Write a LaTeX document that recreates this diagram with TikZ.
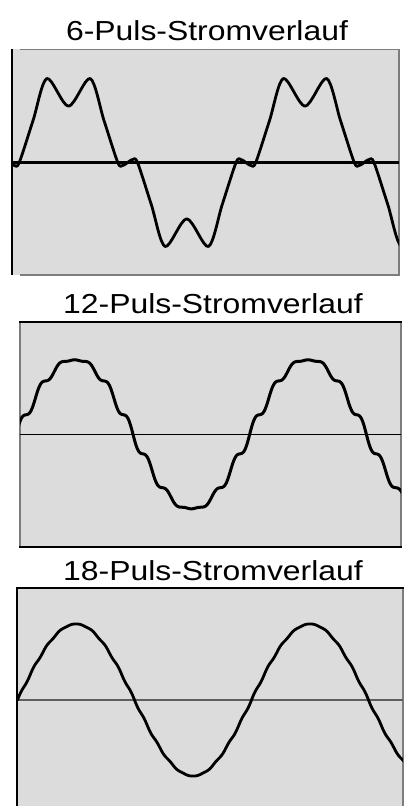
\documentclass[tikz,border=0pt]{standalone}
\usepackage{fontspec}
\setmainfont{Liberation Sans}
\definecolor{kasten}{RGB}{220,220,220}
\definecolor{rahmen}{RGB}{125,125,125}
\definecolor{achsgrau}{RGB}{95,95,95}
\tikzset{
    welle/.style = {line width=2.8pt, black, line join=round, line cap=round},
    achse/.style = {line width=2.3pt, black},
    titel/.style = {font=\fontsize{27.5}{32}\selectfont, xscale=1.16, anchor=base, inner sep=0pt},
    rahmenhell/.style = {line width=1.5pt, draw=rahmen},
    rahmendunkel/.style = {line width=2.6pt, draw=black},
    halbwelle/.pic = {
        \draw[welle] plot[smooth, tension=0.5] coordinates {(0,0) (7.5,-0.035) (15,0) (36,0.5) (57,1) (90,0.67) (123,1) (144,0.5) (165,0) (172.5,-0.035) (180,0)};
    }
}
\begin{document}
\begin{tikzpicture}[x=1pt, y=-1pt]
    \useasboundingbox (0,0) rectangle (405,806);

    % 6 pulse
    \node[titel] (titel6) at (207,40) {6-Puls-Stromverlauf};
    \fill[kasten] (12,49) rectangle (399,275);
    \draw[rahmenhell] (20,49.5) -- (399,49.5) -- (399,275) -- (20,275);
    \draw[line width=1.6pt] (12,49) -- (12,275);
    \begin{scope}
        \clip (12,49) rectangle (399,275);
        \begin{scope}[shift={(9.4,162.5)}, x=0.6569pt, y=84pt]
            \foreach \k/\s in {0/1,1/-1,2/1,3/-1}
                \pic[yscale=\s] at ({180*\k},0) {halbwelle};
        \end{scope}
    \end{scope}
    \draw[achse] (12,162.5) -- (399,162.5);

    % 12 pulse
    \node[titel] (titel12) at (213,313) {12-Puls-Stromverlauf};
    \fill[kasten] (20,322) rectangle (401,547);
    \draw[rahmenhell] (20,322) -- (20,547) (401,322) -- (401,547);
    \draw[rahmendunkel] (19,322) -- (402,322) (19,547) -- (402,547);
    \draw[achse, line width=1.6pt] (20,434.3) -- (401,434.3);
    \begin{scope}
        \clip (20,322) rectangle (401,547);
        \draw[welle, line width=3pt, shift={(16.3,434.3)}, x=0.6483pt, y=75pt]
            plot[domain=0:600, samples=601, smooth] (\x, {sin(\x) + 0.46*(sin(11*\x)/11 + sin(13*\x)/13)});
    \end{scope}

    % 18 pulse
    \node[titel] (titel18) at (213,580) {18-Puls-Stromverlauf};
    \fill[kasten] (17,588) rectangle (403,806);
    \draw[rahmenhell] (403,588) -- (403,806);
    \draw[line width=2pt] (17,588) -- (17,806);
    \draw[rahmendunkel] (16,588) -- (404,588);
    \draw[achse, line width=2pt, achsgrau] (17,700) -- (403,700);
    \begin{scope}
        \clip (17,588) rectangle (403,806);
        \draw[welle, shift={(17.5,700)}, x=0.65pt, y=76pt]
            plot[domain=0:600, samples=601, smooth] (\x, {sin(\x) + 0.12*(sin(17*\x)/17 + sin(19*\x)/19)});
    \end{scope}
\end{tikzpicture}
\end{document}
